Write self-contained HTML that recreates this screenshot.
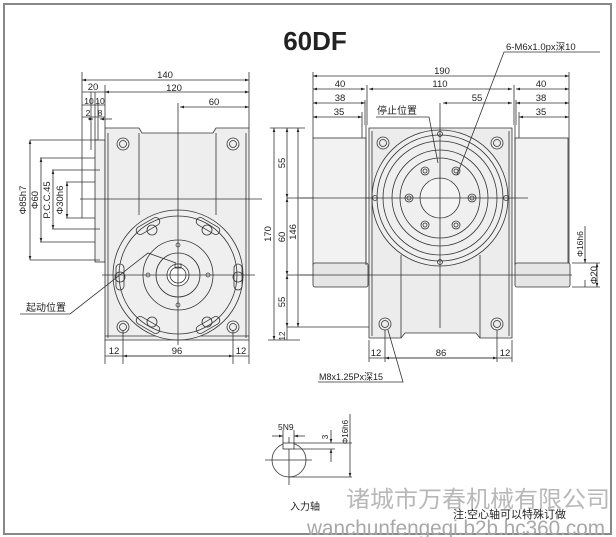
<!DOCTYPE html>
<html><head><meta charset="utf-8"><style>
html,body{margin:0;padding:0;background:#fff;width:616px;height:537px;overflow:hidden}
svg{display:block}
text{font-family:"Liberation Sans","Noto Sans CJK SC",sans-serif;fill:#222}
</style></head><body>
<svg width="616" height="537" viewBox="0 0 616 537" xmlns="http://www.w3.org/2000/svg">
<defs>
<marker id="a" viewBox="0 0 6 6" refX="6" refY="3" markerWidth="5" markerHeight="5" orient="auto-start-reverse"><path d="M0,1 L6,3 L0,5z" fill="#222"/></marker>
</defs>
<rect x="4" y="4" width="607" height="530" fill="none" stroke="#888" stroke-width="2"/>
<text x="315" y="50" font-size="26" font-weight="bold" text-anchor="middle" fill="#111">60DF</text>

<g stroke="#333" stroke-width="0.8" fill="none">
<rect x="95" y="140" width="10" height="122" fill="#f0f0f0"/>
<path d="M105,128 H139 L142,133 H213 L216,128 H249 V340 H105 Z" fill="#eeeeee"/>
<line x1="139" y1="133" x2="139" y2="215"/><line x1="216" y1="133" x2="216" y2="215"/>
<line x1="108" y1="133" x2="108" y2="338"/><line x1="246" y1="133" x2="246" y2="338"/>
<line x1="105" y1="336" x2="249" y2="336"/>
<circle cx="178" cy="275" r="65" fill="#efefef"/>
<circle cx="178" cy="275" r="59"/>
<circle cx="178" cy="275" r="35"/>
<circle cx="178" cy="275" r="22"/>
<circle cx="178" cy="275" r="11" fill="#fff"/>
<circle cx="178" cy="275" r="8"/>
<rect x="175" y="264" width="6" height="4"/>
<g stroke-width="0.7">
<circle cx="178" cy="245" r="2"/><circle cx="178" cy="305" r="2"/><circle cx="148" cy="275" r="2"/><circle cx="208" cy="275" r="2"/>
</g>
<g>
<rect x="-4" y="-13" width="8" height="26" rx="4" transform="translate(120,277)"/>
<rect x="-4" y="-13" width="8" height="26" rx="4" transform="translate(238,277)"/>
<rect x="-4" y="-13" width="8" height="26" rx="4" transform="translate(148,226) rotate(60)"/>
<rect x="-4" y="-13" width="8" height="26" rx="4" transform="translate(208,226) rotate(-60)"/>
<rect x="-4" y="-13" width="8" height="26" rx="4" transform="translate(148,325) rotate(-60)"/>
<rect x="-4" y="-13" width="8" height="26" rx="4" transform="translate(208,325) rotate(60)"/>
<circle cx="120" cy="277" r="5"/><circle cx="238" cy="277" r="5"/>
<circle cx="152" cy="230" r="5"/><circle cx="207" cy="230" r="5"/>
<circle cx="152" cy="322" r="5"/><circle cx="207" cy="322" r="5"/>
</g>
<g>
<circle cx="123" cy="144" r="6"/><circle cx="123" cy="144" r="3.5"/>
<circle cx="233" cy="144" r="6"/><circle cx="233" cy="144" r="3.5"/>
<circle cx="123" cy="327" r="6"/><circle cx="123" cy="327" r="3.5"/>
<circle cx="233" cy="327" r="6"/><circle cx="233" cy="327" r="3.5"/>
</g>
<line x1="178" y1="103" x2="178" y2="345"/>
<line x1="102" y1="275" x2="255" y2="275"/>
<line x1="80" y1="199" x2="262" y2="199"/>
<line x1="30" y1="140" x2="98" y2="140"/><line x1="30" y1="260" x2="100" y2="260"/>
<line x1="40" y1="158" x2="95" y2="158"/><line x1="40" y1="242" x2="95" y2="242"/>
<line x1="52" y1="170" x2="100" y2="170"/><line x1="52" y1="229" x2="100" y2="229"/>
<line x1="66" y1="182" x2="95" y2="182"/><line x1="66" y1="218" x2="95" y2="218"/>
<line x1="82" y1="182" x2="82" y2="218"/>
<line x1="30" y1="140" x2="30" y2="260" marker-start="url(#a)" marker-end="url(#a)"/>
<line x1="41" y1="158" x2="41" y2="242" marker-start="url(#a)" marker-end="url(#a)"/>
<line x1="53" y1="170" x2="53" y2="229" marker-start="url(#a)" marker-end="url(#a)"/>
<line x1="67" y1="182" x2="67" y2="218" marker-start="url(#a)" marker-end="url(#a)"/>
<line x1="82" y1="72" x2="82" y2="182"/><line x1="249" y1="72" x2="249" y2="128"/>
<line x1="105" y1="85" x2="105" y2="128"/><line x1="95" y1="92" x2="95" y2="140"/>
<line x1="91" y1="92" x2="91" y2="150"/><line x1="98" y1="100" x2="98" y2="140"/>
<line x1="82" y1="80" x2="249" y2="80" marker-start="url(#a)" marker-end="url(#a)"/>
<line x1="82" y1="92" x2="105" y2="92"/>
<line x1="105" y1="92" x2="249" y2="92" marker-start="url(#a)" marker-end="url(#a)"/>
<line x1="82" y1="105" x2="105" y2="105"/>
<line x1="82" y1="117" x2="105" y2="117"/>
<line x1="88" y1="119" x2="93" y2="119" marker-end="url(#a)"/>
<line x1="112" y1="119" x2="100" y2="119" marker-end="url(#a)"/>
<line x1="180" y1="107" x2="249" y2="107" marker-start="url(#a)" marker-end="url(#a)"/>
<line x1="105" y1="340" x2="105" y2="364"/><line x1="123" y1="330" x2="123" y2="364"/>
<line x1="233" y1="330" x2="233" y2="364"/><line x1="249" y1="340" x2="249" y2="364"/>
<line x1="105" y1="356" x2="249" y2="356"/>
<line x1="123" y1="356" x2="233" y2="356" marker-start="url(#a)" marker-end="url(#a)"/>
<path d="M20,314 H70 L148,253 L176,263"/>

<line x1="270" y1="128" x2="305" y2="128"/><line x1="268" y1="340" x2="300" y2="340"/>
<line x1="287" y1="198" x2="440" y2="198"/><line x1="287" y1="275" x2="380" y2="275"/>
<line x1="287" y1="327" x2="380" y2="327"/>
<line x1="274" y1="128" x2="274" y2="340" marker-start="url(#a)" marker-end="url(#a)"/>
<line x1="287" y1="128" x2="287" y2="198" marker-start="url(#a)" marker-end="url(#a)"/>
<line x1="287" y1="198" x2="287" y2="275" marker-start="url(#a)" marker-end="url(#a)"/>
<line x1="287" y1="275" x2="287" y2="327" marker-start="url(#a)" marker-end="url(#a)"/>
<line x1="287" y1="327" x2="287" y2="340"/>
<line x1="298" y1="128" x2="298" y2="327" marker-start="url(#a)" marker-end="url(#a)"/>

<rect x="313" y="138" width="53" height="127" fill="#f2f2f2"/>
<rect x="313" y="263" width="55" height="24" rx="2" fill="#e6e6e6"/>
<rect x="515" y="138" width="53" height="127" fill="#f2f2f2"/>
<rect x="515" y="263" width="55" height="24" rx="2" fill="#e6e6e6"/>
<line x1="366" y1="125" x2="366" y2="265"/><line x1="515" y1="125" x2="515" y2="265"/>
<path d="M369,128 H512 V338 H480 L476,333 H405 L401,338 H369 Z" fill="#ececec"/>
<line x1="372" y1="131" x2="372" y2="336"/><line x1="509" y1="131" x2="509" y2="336"/>
<line x1="401" y1="255" x2="401" y2="338"/><line x1="480" y1="255" x2="480" y2="338"/>
<circle cx="440" cy="198" r="68" fill="#efefef"/>
<circle cx="440" cy="198" r="63"/>
<circle cx="440" cy="198" r="57"/>
<circle cx="440" cy="198" r="48"/>
<circle cx="440" cy="198" r="40"/>
<circle cx="440" cy="198" r="20" fill="#f4f4f4"/>
<g>
<circle cx="425" cy="171" r="4"/><circle cx="425" cy="171" r="2"/>
<circle cx="456" cy="171" r="4"/><circle cx="456" cy="171" r="2"/>
<circle cx="409" cy="198" r="4"/><circle cx="409" cy="198" r="2"/>
<circle cx="472" cy="198" r="4"/><circle cx="472" cy="198" r="2"/>
<circle cx="425" cy="225" r="4"/><circle cx="425" cy="225" r="2"/>
<circle cx="456" cy="225" r="4"/><circle cx="456" cy="225" r="2"/>
<circle cx="440" cy="134" r="2.5"/><circle cx="440" cy="262" r="2.5"/>
<circle cx="375" cy="198" r="2.5"/><circle cx="506" cy="198" r="2.5"/>
<circle cx="383" cy="143" r="6"/><circle cx="383" cy="143" r="3.5"/>
<circle cx="497" cy="143" r="6"/><circle cx="497" cy="143" r="3.5"/>
<circle cx="385" cy="324" r="6"/><circle cx="385" cy="324" r="3.5"/>
<circle cx="497" cy="324" r="6"/><circle cx="497" cy="324" r="3.5"/>
</g>
<line x1="440" y1="103" x2="440" y2="328"/>
<line x1="300" y1="198" x2="528" y2="198"/>
<line x1="300" y1="275" x2="572" y2="275"/>
<line x1="313" y1="72" x2="313" y2="138"/><line x1="569" y1="72" x2="569" y2="263"/>
<line x1="367" y1="85" x2="367" y2="125"/><line x1="514" y1="85" x2="514" y2="125"/>
<line x1="365" y1="100" x2="365" y2="125"/><line x1="516" y1="100" x2="516" y2="125"/>
<line x1="362" y1="112" x2="362" y2="138"/><line x1="519" y1="112" x2="519" y2="138"/>
<line x1="313" y1="76" x2="569" y2="76" marker-start="url(#a)" marker-end="url(#a)"/>
<line x1="313" y1="89" x2="365" y2="89" marker-start="url(#a)" marker-end="url(#a)"/>
<line x1="369" y1="89" x2="512" y2="89" marker-start="url(#a)" marker-end="url(#a)"/>
<line x1="516" y1="89" x2="569" y2="89" marker-start="url(#a)" marker-end="url(#a)"/>
<line x1="313" y1="103" x2="365" y2="103" marker-start="url(#a)" marker-end="url(#a)"/>
<line x1="516" y1="103" x2="569" y2="103" marker-start="url(#a)" marker-end="url(#a)"/>
<line x1="313" y1="117" x2="362" y2="117" marker-start="url(#a)" marker-end="url(#a)"/>
<line x1="519" y1="117" x2="569" y2="117" marker-start="url(#a)" marker-end="url(#a)"/>
<line x1="443" y1="103" x2="512" y2="103" marker-start="url(#a)" marker-end="url(#a)"/>
<line x1="572" y1="263" x2="600" y2="263"/><line x1="572" y1="287" x2="600" y2="287"/>
<line x1="585" y1="226" x2="585" y2="263" marker-end="url(#a)"/>
<line x1="585" y1="287" x2="585" y2="280"/>
<line x1="597" y1="263" x2="597" y2="287" marker-start="url(#a)" marker-end="url(#a)"/>
<line x1="369" y1="340" x2="369" y2="362"/><line x1="385" y1="330" x2="385" y2="362"/>
<line x1="497" y1="330" x2="497" y2="362"/><line x1="512" y1="340" x2="512" y2="362"/>
<line x1="369" y1="358" x2="512" y2="358"/>
<line x1="385" y1="358" x2="497" y2="358" marker-start="url(#a)" marker-end="url(#a)"/>
<path d="M318,382 H403 L388,330" />
<path d="M376,117 H429 L438,163"/>
<path d="M600,52 H504 L457,175"/>

<circle cx="289" cy="460" r="17"/>
<line x1="265" y1="460" x2="312" y2="460"/>
<line x1="289" y1="437" x2="289" y2="485"/>
<rect x="283" y="443" width="11" height="6" fill="#fff"/>
<line x1="283" y1="430" x2="283" y2="443"/><line x1="294" y1="430" x2="294" y2="443"/>
<line x1="272" y1="436" x2="283" y2="436" marker-end="url(#a)"/>
<line x1="305" y1="436" x2="294" y2="436" marker-end="url(#a)"/>
<line x1="294" y1="443" x2="352" y2="443"/><line x1="294" y1="449" x2="335" y2="449"/>
<line x1="289" y1="477" x2="352" y2="477"/>
<line x1="331" y1="430" x2="331" y2="443" marker-end="url(#a)"/>
<line x1="331" y1="462" x2="331" y2="449" marker-end="url(#a)"/>
<line x1="350" y1="414" x2="350" y2="477" marker-end="url(#a)"/>
</g>

<g font-size="9.5" text-anchor="middle">
<text x="165" y="78">140</text>
<text x="93" y="90">20</text>
<text x="174" y="91">120</text>
<text x="89" y="104" font-size="8.5">10</text><text x="100" y="104" font-size="8.5">10</text>
<text x="88" y="116" font-size="8.5">2</text><text x="100" y="116" font-size="8.5">8</text>
<text x="214" y="105">60</text>
<text x="114" y="354">12</text><text x="177" y="354">96</text><text x="241" y="354">12</text>
<text x="442" y="74">190</text>
<text x="340" y="87">40</text><text x="440" y="87">110</text><text x="541" y="87">40</text>
<text x="340" y="101">38</text><text x="541" y="101">38</text>
<text x="339" y="115">35</text><text x="541" y="115">35</text>
<text x="477" y="101">55</text>
<text x="376" y="356">12</text><text x="441" y="356">86</text><text x="505" y="356">12</text>
</g>
<g font-size="9.5" text-anchor="middle">
<text transform="translate(26,200) rotate(-90)">Φ85h7</text>
<text transform="translate(38,200) rotate(-90)">Φ60</text>
<text transform="translate(50,200) rotate(-90)">P.C.C.45</text>
<text transform="translate(63,200) rotate(-90)">Φ30h6</text>
<text transform="translate(271,234) rotate(-90)">170</text>
<text transform="translate(285,163) rotate(-90)">55</text>
<text transform="translate(285,237) rotate(-90)">60</text>
<text transform="translate(285,302) rotate(-90)">55</text>
<text transform="translate(285,336) rotate(-90)" font-size="8">12</text>
<text transform="translate(296,232) rotate(-90)">146</text>
<text transform="translate(583,244) rotate(-90)" font-size="8.5">Φ16h6</text>
<text transform="translate(597,275) rotate(-90)">Φ20</text>
<text transform="translate(348,432) rotate(-90)" font-size="8">Φ16h6</text>
<text transform="translate(328,437) rotate(-90)" font-size="8">3</text>
</g>
<text x="26" y="311" font-size="10">起动位置</text>
<text x="377" y="114" font-size="10">停止位置</text>
<text x="506" y="50" font-size="9.5">6-M6x1.0px深10</text>
<text x="319" y="380" font-size="9">M8x1.25Px深15</text>
<text x="278" y="430" font-size="8.5">5N9</text>
<text x="290" y="510" font-size="10">入力轴</text>
<text x="346" y="507" font-size="23" textLength="264" lengthAdjust="spacingAndGlyphs" style="fill:#b8b8b8">诸城市万春机械有限公司</text>
<text x="453" y="518" font-size="11">注:空心轴可以特殊订做</text>
<text x="307" y="535" font-size="21" textLength="298" lengthAdjust="spacingAndGlyphs" style="fill:#a8a8a8">wanchunfengeqi.b2b.hc360.com</text>
</svg>
</body></html>
